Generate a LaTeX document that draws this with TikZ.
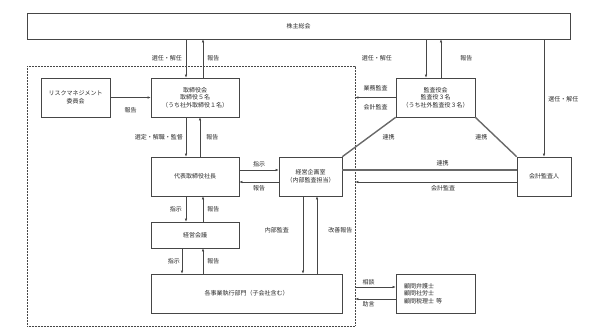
\documentclass[tikz,border=0pt]{standalone}
\usepackage{fontspec}
\setmainfont{Noto Sans CJK JP}
\usetikzlibrary{arrows.meta}
\definecolor{linegray}{RGB}{70,70,70}
\definecolor{linkgray}{RGB}{105,105,105}
\definecolor{textgray}{RGB}{40,40,40}

\begin{document}
\begin{tikzpicture}[x=1pt, y=-1pt,
    box/.style={rectangle, draw=linegray, line width=0.6pt, align=center, text=textgray,
                font=\fontsize{6}{7.5}\selectfont, inner sep=0pt},
    frame/.style={rectangle, draw=linegray, line width=0.6pt, dash pattern=on 0.6pt off 0.9pt,
                  inner sep=0pt, minimum width=328pt, minimum height=260pt},
    arr/.style={-{Latex[length=3pt,width=2.4pt]}, line width=0.5pt, linegray},
    lbl/.style={font=\fontsize{6}{7}\selectfont, text=textgray, inner sep=1pt},
    link/.style={line width=1.4pt, linkgray},
]
\useasboundingbox (0,0) rectangle (599,327);

% boxes
\node[box, minimum width=543pt, minimum height=26pt] (gm) at (298.5,26) {株主総会};
\node[frame] (org) at (191,196) {};
\node[box, minimum width=69pt, minimum height=39pt] (risk) at (75.5,97.5) {リスクマネジメント\\委員会};
\node[box, minimum width=88pt, minimum height=39pt] (board) at (195,97.5) {取締役会\\取締役５名\\（うち社外取締役１名）};
\node[box, minimum width=88pt, minimum height=39pt] (ceo) at (195,176.5) {代表取締役社長};
\node[box, minimum width=63pt, minimum height=39pt] (plan) at (310.5,176.5) {経営企画室\\（内部監査担当）};
\node[box, minimum width=88pt, minimum height=26pt] (mtg) at (195,235) {経営会議};
\node[box, minimum width=191pt, minimum height=39pt] (div) at (246.5,293.5) {各事業執行部門（子会社含む）};
\node[box, minimum width=79pt, minimum height=39pt] (audit) at (435.5,97.5) {監査役会\\監査役３名\\（うち社外監査役３名）};
\node[box, minimum width=54pt, minimum height=39pt] (acct) at (544,176.5) {会計監査人};
\node[box, minimum width=79pt, minimum height=39pt, text width=63pt, align=left] (adv) at (435.5,293.5) {顧問弁護士\\顧問社労士\\顧問税理士 等};

% shareholders
\draw[arr] ([xshift=-9pt]board.north |- gm.south) -- ([xshift=-9pt]board.north)
    node[midway, left=3pt, lbl] {選任・解任};
\draw[arr] ([xshift=8pt]board.north) -- ([xshift=8pt]board.north |- gm.south)
    node[midway, right=3pt, lbl] {報告};
\draw[arr] ([xshift=-9.5pt]audit.north |- gm.south) -- ([xshift=-9.5pt]audit.north)
    node[midway, left=33pt, lbl] {選任・解任};
\draw[arr] ([xshift=5.5pt]audit.north) -- ([xshift=5.5pt]audit.north |- gm.south)
    node[midway, right=18pt, lbl] {報告};
\draw[arr] (acct.north |- gm.south) -- (acct.north)
    node[pos=0.51, right=3pt, lbl] {選任・解任};

% inside the company
\draw[arr] (risk.east) -- (board.west) node[midway, below=9pt, lbl] {報告};
\draw[arr] ([xshift=-9pt]board.south) -- ([xshift=-9pt]ceo.north)
    node[midway, left=2pt, lbl] {選定・解職・監督};
\draw[arr] ([xshift=5pt]ceo.north) -- ([xshift=5pt]board.south)
    node[midway, right=5pt, lbl] {報告};
\draw[arr] ([yshift=6.5pt]ceo.east) -- ([yshift=6.5pt]plan.west)
    node[midway, above=2pt, lbl] {指示};
\draw[arr] ([yshift=-5.5pt]plan.west) -- ([yshift=-5.5pt]ceo.east)
    node[midway, below=2pt, lbl] {報告};
\draw[arr] ([xshift=-9pt]ceo.south) -- ([xshift=-9pt]mtg.north)
    node[midway, left=3pt, lbl] {指示};
\draw[arr] ([xshift=8pt]mtg.north) -- ([xshift=8pt]ceo.south)
    node[midway, right=3pt, lbl] {報告};
\draw[arr] ([xshift=-13pt]mtg.south) -- ([xshift=-13pt]mtg.south |- div.north)
    node[midway, left=1pt, lbl] {指示};
\draw[arr] ([xshift=8pt]mtg.south |- div.north) -- ([xshift=8pt]mtg.south)
    node[midway, right=3pt, lbl] {報告};
\draw[arr] ([xshift=-7.5pt]plan.south) -- ([xshift=-7.5pt]plan.south |- div.north)
    node[pos=0.44, left=13pt, lbl] {内部監査};
\draw[arr] ([xshift=6.5pt]plan.south |- div.north) -- ([xshift=6.5pt]plan.south)
    node[pos=0.56, right=10pt, lbl] {改善報告};

% audit side
\draw[arr] (audit.west) -- (audit.west -| org.east)
    node[midway, above=5pt, lbl] {業務監査}
    node[midway, below=6pt, lbl] {会計監査};
\draw[link] (audit.south west) -- (plan.north east) node[midway, right=12pt, lbl] {連携};
\draw[link] (audit.south east) -- (acct.north west) node[midway, left=7pt, lbl] {連携};
\draw[link] ([yshift=6.5pt]plan.east) -- ([yshift=6.5pt]acct.west)
    node[midway, above=2pt, xshift=13pt, lbl] {連携};
\draw[arr] ([yshift=-5.5pt]acct.west) -- ([yshift=-5.5pt]acct.west -| org.east)
    node[midway, below=2pt, xshift=7pt, lbl] {会計監査};

% advisors
\draw[arr] ([yshift=6.5pt]adv.west -| org.east) -- ([yshift=6.5pt]adv.west)
    node[midway, above=1pt, xshift=-7pt, lbl] {相談};
\draw[arr] ([yshift=-5.5pt]adv.west) -- ([yshift=-5.5pt]adv.west -| org.east)
    node[midway, below=1pt, xshift=-7pt, lbl] {助言};
\end{tikzpicture}
\end{document}
